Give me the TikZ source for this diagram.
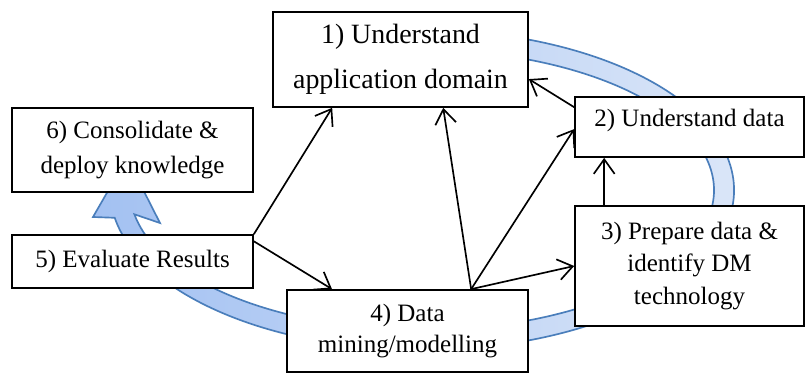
\documentclass[tikz,border=0pt]{standalone}
\usepackage{fontspec}
\setmainfont{Liberation Serif}
\usetikzlibrary{arrows.meta}

\definecolor{ringline}{HTML}{4A7EBB}
\definecolor{ringleft}{HTML}{A3C1F2}
\definecolor{ringright}{HTML}{DCE7F8}

\begin{document}
\begin{tikzpicture}[x=0.48pt, y=0.48pt,
    every node/.style={font=\fontsize{12}{16.5}\selectfont},
    stage/.style={draw, line width=0.8pt, fill=white, align=center, inner sep=2pt},
    flow/.style={line width=0.8pt, -{Straight Barb[length=7pt,width=10pt]}},
    ring/.style={draw=ringline, line width=0.8pt, left color=ringleft, right color=ringright}]

\path[fill=white, use as bounding box] (0,0) rectangle (805,373);
\coordinate (c) at (422,183);

\path[ring] (c) ++(100:312 and 160)
    arc[start angle=100, end angle=-170, x radius=312, y radius=160]
    -- (93,156) -- (127,215) -- (160,150) -- (134.4,158.7)
    arc[start angle=-170, end angle=100, x radius=292, y radius=140] -- cycle;

\node[stage, minimum width=122.4pt, minimum height=45.6pt, font=\fontsize{13.4}{21.6}\selectfont] (n1) at (400.5,313.5) {1) Understand\\application domain};
\node[stage, minimum width=109.9pt, minimum height=28.8pt, text depth=9pt] (n2) at (689.5,246) {2) Understand data};
\node[stage, minimum width=109.9pt, minimum height=57.6pt, font=\fontsize{12}{15.8}\selectfont] (n3) at (689.5,107) {3) Prepare data \&\\identify DM\\technology};
\node[stage, minimum width=115.7pt, minimum height=39.4pt, font=\fontsize{12}{15}\selectfont] (n4) at (407.5,42) {4) Data\\mining/modelling};
\node[stage, minimum width=115.7pt, minimum height=25.4pt] (n5) at (132.5,111.5) {5) Evaluate Results};
\node[stage, minimum width=115.7pt, minimum height=40.3pt] (n6) at (132.5,223) {6) Consolidate \&\\deploy knowledge};

\coordinate (m4) at ([xshift=88.8pt]n4.north west);
\draw[flow] (n5.north east) -- ([xshift=28.8pt]n1.south west);
\draw[flow] ([yshift=-3.4pt]n5.north east) -- ([xshift=22pt]n4.north west);
\draw[flow] (m4) -- ([xshift=82.1pt]n1.south west);
\draw[flow] (m4) -- ([yshift=-15.8pt]n2.north west);
\draw[flow] (m4) -- (n3.west);
\draw[flow] ([yshift=-5.3pt]n2.north west) -- ([yshift=-32.6pt]n1.north east);
\draw[flow] ([xshift=14.4pt]n3.north west) -- ([xshift=14.4pt]n2.south west);
\end{tikzpicture}
\end{document}
